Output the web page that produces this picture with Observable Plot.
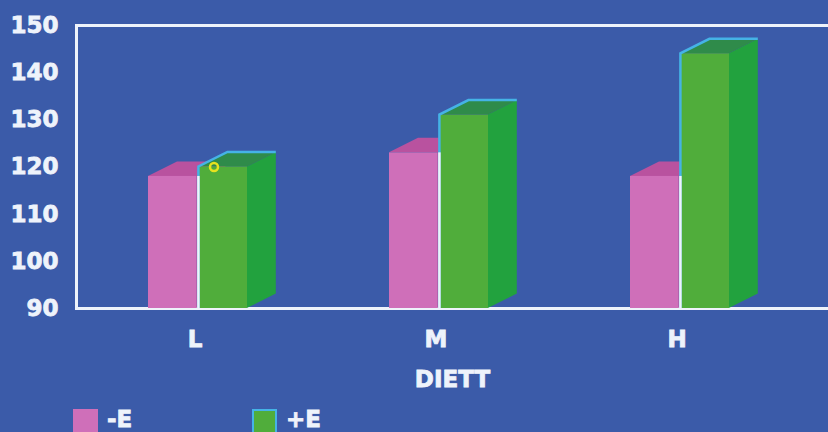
<!DOCTYPE html>
<html>
<head>
<meta charset="utf-8">
<script src="https://cdn.jsdelivr.net/npm/d3@7"></script>
<script src="https://cdn.jsdelivr.net/npm/@observablehq/plot@0.6"></script>
<style>
  html, body { margin: 0; padding: 0; background: #3b5ba9; overflow: hidden; }
  #chart svg { display: block; overflow: hidden; }
  #chart svg text { stroke: #eef3fb; stroke-width: 0.8px; }
  .legend { display: flex; padding-left: 73px; margin-top: 9px;
            font: bold 23px "DejaVu Sans", sans-serif; color: #eef3fb;
            -webkit-text-stroke: 0.8px #eef3fb; }
  .item { display: flex; width: 179px; align-items: flex-start; }
  .sw { width: 25px; height: 25px; box-sizing: border-box; margin-right: 9px; }
  .item span { line-height: 23px; margin-top: -1px; }
</style>
</head>
<body>
<div id="chart"></div>
<div class="legend" id="legend"></div>
<script>
// Diet groups and the two series
const diets = ["L", "M", "H"];
const minusE = [118, 123, 118];
const plusE = [120, 131, 144];
const seriesNames = ["-E", "+E"];
const yTicks = [90, 100, 110, 120, 130, 140, 150];
const axisTitle = "DIETT";

const WHITE = "#eef3fb";
const CYAN = "#45b3e6";
const PINK = {front: "#cf6fb9", top: "#b9529f", side: "#b04a98"};
const GREEN = {front: "#50ad3b", top: "#2f8b4a", side: "#22a23e"};

const PAD_INNER = 0.59;
const DX = 29, DY = 14.5;   // extrusion of the pseudo-3D boxes
const BASE = 90;

const rows = diets.flatMap((d, i) => [
  {diet: d, series: seriesNames[0], value: minusE[i]},
  {diet: d, series: seriesNames[1], value: plusE[i]}
]);
const minusRows = rows.filter(r => r.series === seriesNames[0]);
const plusRows = rows.filter(r => r.series === seriesNames[1]);

// horizontal extent of a front face inside its band
function frontX(sx, r) {
  const step = sx(diets[1]) - sx(diets[0]);
  const bw = step * (1 - PAD_INNER);
  const x0 = sx(r.diet);
  return r.series === seriesNames[0]
    ? [x0, x0 + bw / 2 - 1]
    : [x0 + bw / 2 + 1, x0 + bw];
}

// top and side faces of each box
function faces(data, colors) {
  return (index, scales) => {
    const sx = scales.x, sy = scales.y;
    const g = d3.create("svg:g");
    for (const r of data) {
      const [x1, x2] = frontX(sx, r);
      const yt = sy(r.value), yb = sy(BASE);
      g.append("path")
        .attr("d", `M${x2},${yb}L${x2},${yt}L${x2 + DX},${yt - DY}L${x2 + DX},${yb - DY}Z`)
        .attr("fill", colors.side);
      g.append("path")
        .attr("d", `M${x1},${yt}L${x2},${yt}L${x2 + DX},${yt - DY}L${x1 + DX},${yt - DY}Z`)
        .attr("fill", colors.top);
    }
    return g.node();
  };
}

// outline along the left and top-back edges of the +E boxes
function edges(index, scales) {
  const sx = scales.x, sy = scales.y;
  const g = d3.create("svg:g").attr("fill", "none").attr("stroke-width", 2.5);
  plusRows.forEach((r, i) => {
    const [x1, x2] = frontX(sx, r);
    const yt = sy(r.value), yb = sy(BASE);
    g.append("path")
      .attr("d", `M${x1},${yb}L${x1},${yt}L${x1 + DX},${yt - DY}L${x2 + DX},${yt - DY}`)
      .attr("stroke", CYAN);
    g.append("path")
      .attr("d", `M${x1},${yb}L${x1},${sy(minusRows[i].value)}`)
      .attr("stroke", WHITE);
  });
  return g.node();
}

const half = 50.4;

const chart = Plot.plot({
  width: 828,
  height: 400,
  marginLeft: 76,
  marginRight: 0,
  marginTop: 25,
  marginBottom: 92,
  style: {background: "transparent", color: WHITE, fontFamily: "DejaVu Sans", fontSize: "23px", fontWeight: "bold"},
  x: {domain: diets, range: [77, 800], paddingInner: PAD_INNER, paddingOuter: PAD_INNER / 2},
  y: {domain: [BASE, 150]},
  marks: [
    Plot.frame({stroke: WHITE, strokeWidth: 3, insetRight: -10}),
    Plot.axisY(yTicks, {tickSize: 0, tickPadding: 18, label: null, fill: WHITE, fontSize: 23, fontWeight: "bold"}),
    Plot.axisX({tickSize: 0, tickPadding: 22, dx: -3, fill: WHITE, fontSize: 23, fontWeight: "bold",
                label: axisTitle, labelAnchor: "center", labelOffset: 78}),
    faces(minusRows, PINK),
    Plot.barY(minusRows, {x: "diet", y1: BASE, y2: "value", fill: PINK.front, insetRight: half}),
    faces(plusRows, GREEN),
    Plot.barY(plusRows, {x: "diet", y1: BASE, y2: "value", fill: GREEN.front, insetLeft: half}),
    edges,
    Plot.dot(plusRows.slice(0, 1), {x: "diet", y: "value", dx: 16, r: 4, stroke: "#e6e21e", strokeWidth: 2.5, fill: "none"})
  ]
});
document.getElementById("chart").append(chart);

// legend
const legend = d3.select("#legend");
[[seriesNames[0], PINK.front, PINK.front], [seriesNames[1], GREEN.front, CYAN]].forEach(([name, fill, border]) => {
  const item = legend.append("div").attr("class", "item");
  item.append("div").attr("class", "sw").style("background", fill).style("border", `2px solid ${border}`);
  item.append("span").text(name);
});
</script>
</body>
</html>
